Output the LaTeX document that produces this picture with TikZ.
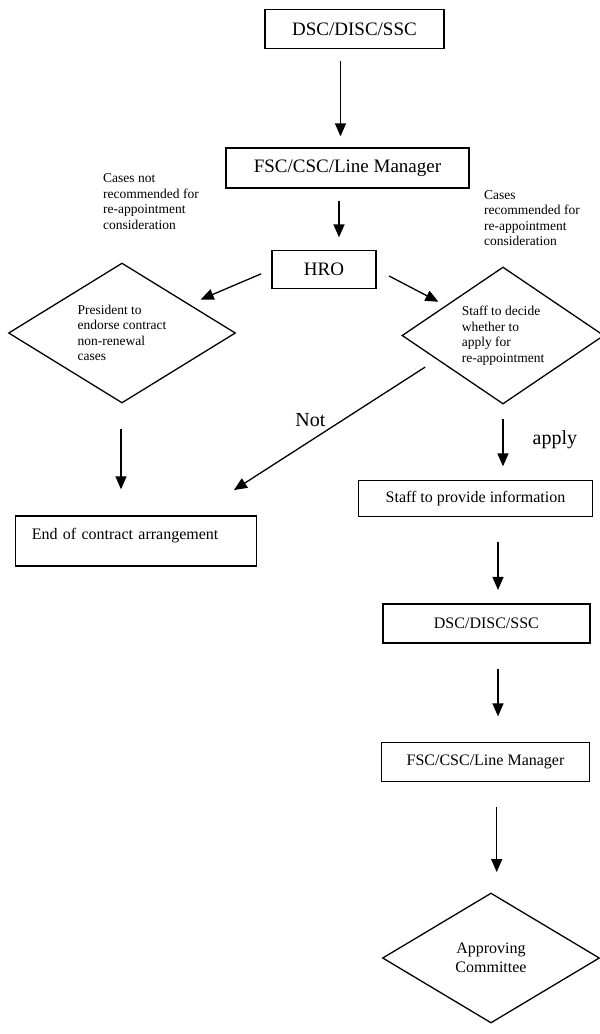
\documentclass[tikz,border=0pt]{standalone}
\usepackage{fontspec}
\setmainfont{Liberation Serif}
\usepackage{tikz}
\usetikzlibrary{shapes.geometric, arrows.meta}
\tikzset{
    stepbox/.style={
        rectangle, draw, line width=1.3pt,
        align=center, inner sep=0pt
    },
    choice/.style={
        diamond, draw, line width=1.3pt,
        aspect=1.6, inner sep=0pt
    },
    note/.style={align=left, inner sep=0pt, font=\fontsize{13.5}{15.5}\selectfont},
    tag/.style={inner sep=0pt, font=\fontsize{20}{24}\selectfont},
    flow/.style={line width=1.3pt, -{Triangle[length=13pt, width=11pt]}}
}

\begin{document}
\begin{tikzpicture}[x=1pt, y=-1pt]
        \useasboundingbox (0,0) rectangle (600,1034);

        % upper chain
        \node [stepbox, minimum width=179pt, minimum height=39pt, font=\fontsize{19}{22}\selectfont] (dscA) at (354.5,29) {DSC/DISC/SSC};
        \node [stepbox, minimum width=243pt, minimum height=40pt, font=\fontsize{19}{22}\selectfont] (fscA) at (347.5,168) {FSC/CSC/Line Manager};
        \node [stepbox, minimum width=104pt, minimum height=38pt, font=\fontsize{19}{22}\selectfont] (hro) at (324,269.5) {HRO};

        \node [note, anchor=west] (skipnote) at (103,201.5) {Cases not\\recommended for\\re-appointment\\consideration};
        \node [note, anchor=west] (keepnote) at (484,218) {Cases\\recommended for\\re-appointment\\consideration};

        \node [choice, align=left, minimum width=227pt, minimum height=140pt, font=\fontsize{13.5}{15.5}\selectfont] (pres) at (122,333) {President to\\endorse contract\\non-renewal\\cases};
        \node [choice, align=left, minimum width=202pt, minimum height=137pt, font=\fontsize{13.5}{15.5}\selectfont] (staff) at (503,335.5) {Staff to decide\\whether to\\apply for\\re-appointment};

        \node [stepbox, align=left, text width=208pt, inner xsep=16.5pt, inner ysep=7pt, text height=16pt, text depth=20pt, font=\fontsize{16}{19}\selectfont] (endb) at (135.8,541) {End of contract arrangement};

        % lower chain
        \node [stepbox, minimum width=234pt, minimum height=36pt, font=\fontsize{16}{19}\selectfont] (stpi) at (475.5,498.7) {Staff to provide information};
        \node [stepbox, minimum width=207pt, minimum height=39pt, font=\fontsize{16}{19}\selectfont] (dscB) at (486.4,623.4) {DSC/DISC/SSC};
        \node [stepbox, minimum width=207.6pt, minimum height=39pt, font=\fontsize{16}{19}\selectfont] (fscB) at (485.5,762) {FSC/CSC/Line Manager};
        \node [choice, align=center, minimum width=217pt, minimum height=130pt, font=\fontsize{16}{18.5}\selectfont] (appr) at (491,958) {Approving\\Committee};

        \draw [flow, shorten <=11.5pt, shorten >=11pt] ([xshift=-14pt]dscA.south) -- ([xshift=-7pt]fscA.north);
        \draw [flow, shorten <=12pt, shorten >=12.5pt] ([xshift=-8.5pt]fscA.south) -- ([xshift=15pt]hro.north);
        \draw [flow, shorten <=11pt, shorten >=12pt] (hro.west) -- (pres);
        \draw [flow, shorten <=14pt, shorten >=8pt] (hro.east) -- (staff);

        \draw [flow, shorten <=25pt, shorten >=26pt] ([xshift=-1pt]pres.south) -- ([xshift=-14.8pt]endb.north);
        \draw [flow] ([xshift=-27pt, yshift=3pt]staff.south west) -- node [tag, pos=0.6, above=14pt] (nottag) {Not} ([xshift=-23pt, yshift=25.3pt]endb.north east);
        \draw [flow, shorten <=14pt, shorten >=13.7pt] (staff.south) -- node [tag, right=29pt, yshift=3pt] (applytag) {apply} ([xshift=27.5pt]stpi.north);

        \draw [flow, shorten <=25pt, shorten >=13.3pt] ([xshift=22.5pt]stpi.south) -- ([xshift=11.6pt]dscB.north);
        \draw [flow, shorten <=25pt, shorten >=25.5pt] ([xshift=11.6pt]dscB.south) -- ([xshift=12.5pt]fscB.north);
        \draw [flow, shorten <=25pt, shorten >=20.3pt] ([xshift=11.2pt]fscB.south) -- ([xshift=5.7pt]appr.north);
    \end{tikzpicture}
\end{document}
